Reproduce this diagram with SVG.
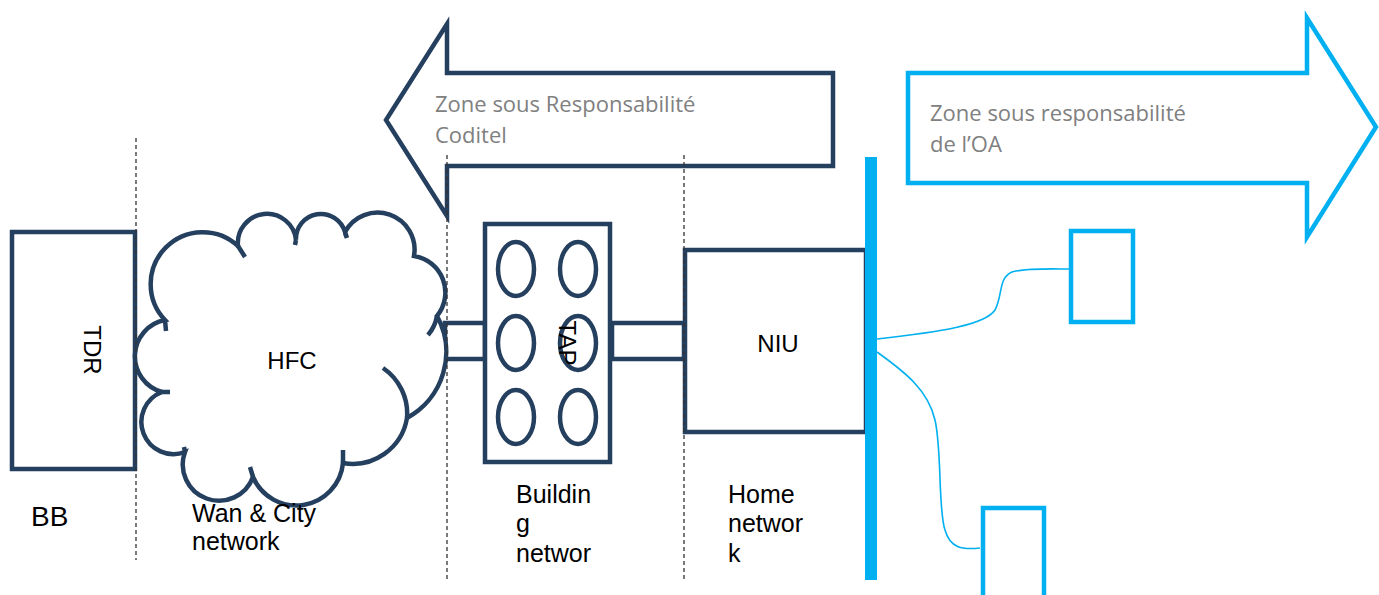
<svg xmlns="http://www.w3.org/2000/svg" width="1379" height="595" viewBox="0 0 1379 595">
<style>
.nv{fill:#fff;stroke:#253F5F;stroke-width:4.5}
.nvl{fill:none;stroke:#253F5F;stroke-width:4.5}
.cy{fill:#fff;stroke:#00B0F0;stroke-width:4.5}
.cyl{fill:none;stroke:#00B0F0;stroke-width:1.6}
.dash{stroke:#333;stroke-width:1.3;stroke-dasharray:4 3;fill:none}
.lbl{font-family:"Liberation Sans",Arial,sans-serif;fill:#000}
.zone{font-family:"Open Sans","Noto Sans",sans-serif;font-size:22px;fill:#808080}
</style>
<rect width="1379" height="595" fill="#fff"/>
<g id="arrow-coditel">
<polygon class="nv" points="447,73 833,73 833,166 447,166 447,216 386,120 447,24"/>
<text class="zone" x="435" y="112">Zone sous Responsabilité</text>
<text class="zone" x="435" y="143">Coditel</text>
</g>
<g id="arrow-oa">
<polygon class="cy" points="908,73 1307,73 1307,18 1376,127 1307,237 1307,183 908,183"/>
<text class="zone" x="930" y="121">Zone sous responsabilité</text>
<text class="zone" x="930" y="152">de l’OA</text>
</g>
<g id="connectors">
<rect class="nv" x="445" y="323" width="40" height="36"/>
<rect class="nv" x="612" y="323" width="72" height="36"/>
<path class="cyl" d="M877,339 C940,332 985,325 995,310 C1003,295 998,278 1012,272 C1025,268 1050,269 1069,269"/>
<path class="cyl" d="M877,352 C905,372 928,390 935,420 C942,450 938,510 945,530 C950,548 962,550 980,548"/>
</g>
<g id="tdr">
<rect class="nv" x="12" y="232" width="123" height="237"/>
<text class="lbl" font-size="24" transform="translate(84,350) rotate(90)" text-anchor="middle">TDR</text>
</g>
<g id="hfc">
<path class="nv" d="M165,320 A52 52 0 0 1 238,246 A29 29 0 0 1 296,240 A25 25 0 0 1 345,232 A37 37 0 0 1 414,256 A37 37 0 0 1 437,316 A75 75 0 0 1 407,418 A55 55 0 0 1 343,463 A47 47 0 0 1 253,477 A35 35 0 0 1 185,452 A31 31 0 0 1 162,392 A37 37 0 0 1 165,320 Z"/>
<path class="nvl" d="M165,320 L166,331 M238,246 L245,257 M296,240 L295,245 M345,232 L347,238 M437,316 Q435,327 428,335 M383,368 A55 55 0 0 1 407,418 M343,463 L343,450 M253,477 L250,467 M185,452 L184,447 M162,392 L170,392"/>
<text class="lbl" font-size="24" x="292" y="369" text-anchor="middle">HFC</text>
</g>
<g id="tap">
<rect class="nv" x="485" y="224" width="125" height="238"/>
<ellipse class="nv" cx="516" cy="269" rx="18" ry="27"/>
<ellipse class="nv" cx="578" cy="269" rx="18" ry="27"/>
<ellipse class="nv" cx="516" cy="343" rx="18" ry="27"/>
<ellipse class="nv" cx="578" cy="343" rx="18" ry="27"/>
<ellipse class="nv" cx="516" cy="417" rx="18" ry="27"/>
<ellipse class="nv" cx="578" cy="417" rx="18" ry="27"/>
<text class="lbl" font-size="24" transform="translate(559,343) rotate(90)" text-anchor="middle">TAP</text>
</g>
<g id="niu">
<rect class="nv" x="685" y="250" width="181" height="182"/>
<text class="lbl" font-size="24" x="778" y="352" text-anchor="middle">NIU</text>
</g>
<g id="bar">
<rect x="865" y="157" width="12" height="423" fill="#00B0F0"/>
</g>
<g id="device1">
<rect class="cy" x="1071" y="231" width="62" height="91"/>
</g>
<g id="device2">
<rect class="cy" x="983" y="508" width="61" height="100"/>
</g>
<g id="dividers">
<line class="dash" x1="136" y1="138" x2="136" y2="560"/>
<line class="dash" x1="447" y1="155" x2="447" y2="580"/>
<line class="dash" x1="684" y1="155" x2="684" y2="580"/>
</g>
<g id="labels">
<text class="lbl" font-size="28" x="31" y="526">BB</text>
<text class="lbl" font-size="25" x="192" y="522">Wan &amp; City</text>
<text class="lbl" font-size="25" x="192" y="550">network</text>
<text class="lbl" font-size="25" x="516" y="503">Buildin</text>
<text class="lbl" font-size="25" x="516" y="532">g</text>
<text class="lbl" font-size="25" x="516" y="562">networ</text>
<text class="lbl" font-size="25" x="728" y="503">Home</text>
<text class="lbl" font-size="25" x="728" y="532">networ</text>
<text class="lbl" font-size="25" x="728" y="562">k</text>
</g>
</svg>
